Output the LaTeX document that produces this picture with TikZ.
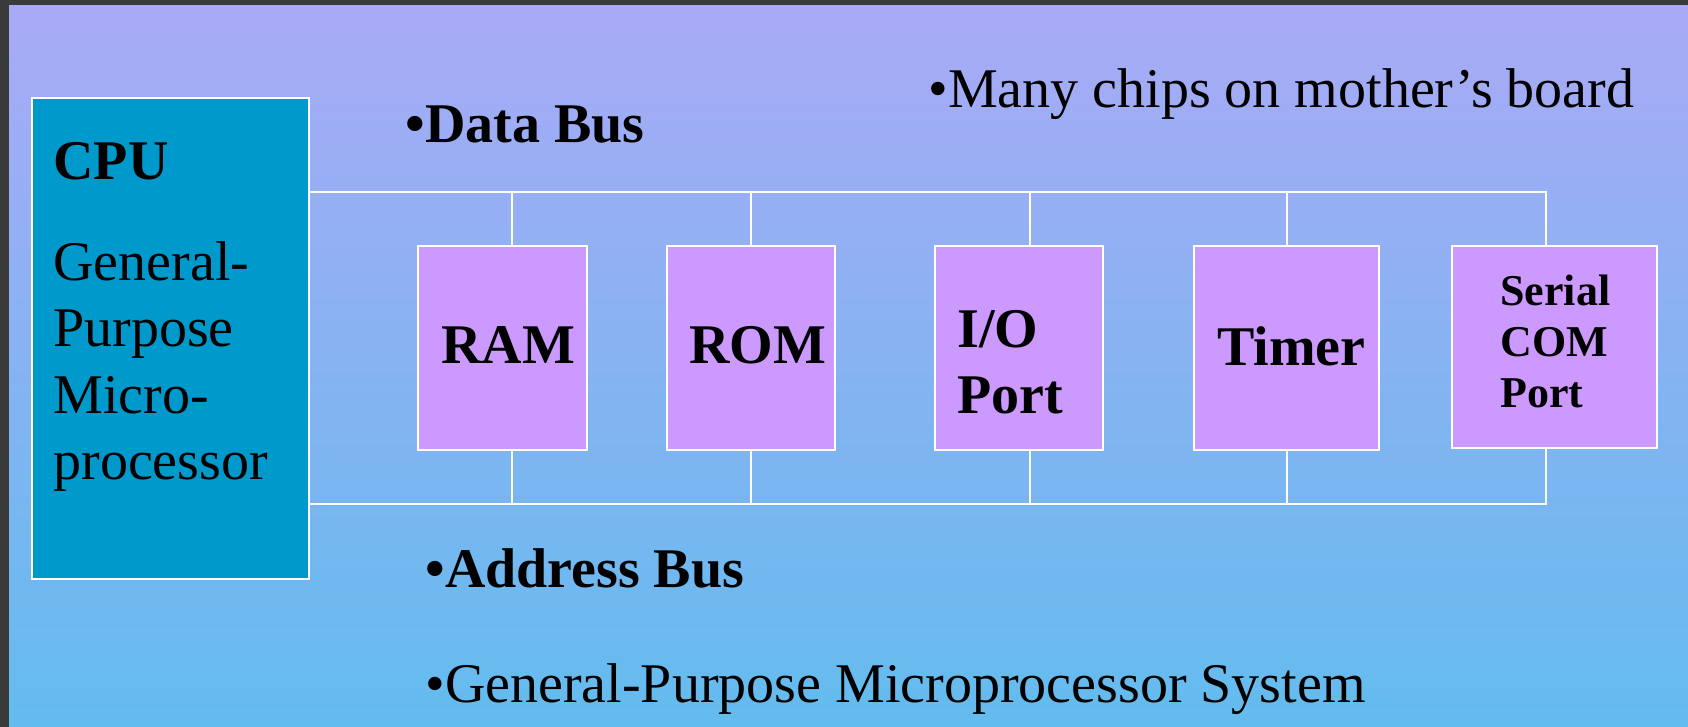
\documentclass[tikz,border=0pt]{standalone}
\usepackage{fontspec}
\setmainfont{Liberation Serif}
\usepackage{tikz}

\definecolor{slidetop}{RGB}{169,170,246}
\definecolor{slidebot}{RGB}{99,188,238}
\definecolor{frame}{RGB}{58,58,58}
\definecolor{chipfill}{RGB}{204,153,255}
\definecolor{cpufill}{RGB}{0,153,204}

\begin{document}
\begin{tikzpicture}[x=0.5pt, y=-0.5pt,
  chip/.style = {draw=white, line width=0.8pt, fill=chipfill, minimum height=102pt, inner sep=0pt},
  cpubox/.style = {draw=white, line width=0.8pt, fill=cpufill, inner sep=0pt},
  bus/.style = {draw=white, line width=1pt},
  txt/.style = {anchor=base west, inner sep=0pt, align=left, font=\fontsize{28}{33.3}\selectfont},
  btxt/.style = {txt, font=\fontsize{28}{33}\selectfont\bfseries}]
  \useasboundingbox (0,0) rectangle (1688,727);
  % slide background
  \fill[frame] (0,0) rectangle (1688,727);
  \shade[top color=slidetop, bottom color=slidebot] (9,6) rectangle (1688,727);

  % boxes
  \node[cpubox, minimum width=138.5pt, minimum height=240.5pt] (cpu) at (170.5,338.5) {};
  \node[chip, minimum width=84.5pt] (ram) at (502.5,348) {};
  \node[chip, minimum width=84pt] (rom) at (751,348) {};
  \node[chip, minimum width=84pt] (io) at (1019,348) {};
  \node[chip, minimum width=92.5pt] (timer) at (1286.5,348) {};
  \node[chip, minimum width=102.5pt, minimum height=101pt] (serial) at (1554.5,347) {};

  % box texts (multi-line ones sit on their last line)
  \node[btxt] (cpulabel) at (53,180) {CPU};
  \node[txt] (cpudesc) at (53,480) {General-\\Purpose\\Micro-\\processor};
  \node[btxt] (ramlabel) at (441,364) {RAM};
  \node[btxt] (romlabel) at (689,364) {ROM};
  \node[btxt] (iolabel) at (957,414) {I/O\\Port};
  \node[btxt] (timerlabel) at (1217,365) {Timer};
  \node[btxt, font=\fontsize{22}{25.7}\selectfont\bfseries] (seriallabel) at (1500,408) {Serial\\COM\\Port};

  % captions
  \node[btxt] (databus) at (405,143) {•Data Bus};
  \node[txt] (chips) at (928,108) {•Many chips on mother’s board};
  \node[btxt] (addrbus) at (425,587) {•Address Bus};
  \node[txt] (system) at (425,702) {•General-Purpose Microprocessor System};

  % data and address bus
  \coordinate (dbend) at (1546,192);
  \coordinate (abend) at (1546,504);
  \draw[bus] (cpu.east |- dbend) -- (dbend) -- (dbend |- serial.north);
  \draw[bus] (cpu.east |- abend) -- (abend) -- (abend |- serial.south);
  \foreach \chip/\dx in {ram/4.75pt, rom/0pt, io/5.25pt, timer/0.25pt} {
    \draw[bus] ([xshift=\dx]\chip.north) -- ([xshift=\dx]\chip.north |- dbend);
    \draw[bus] ([xshift=\dx]\chip.south) -- ([xshift=\dx]\chip.south |- abend);
  }
\end{tikzpicture}
\end{document}
